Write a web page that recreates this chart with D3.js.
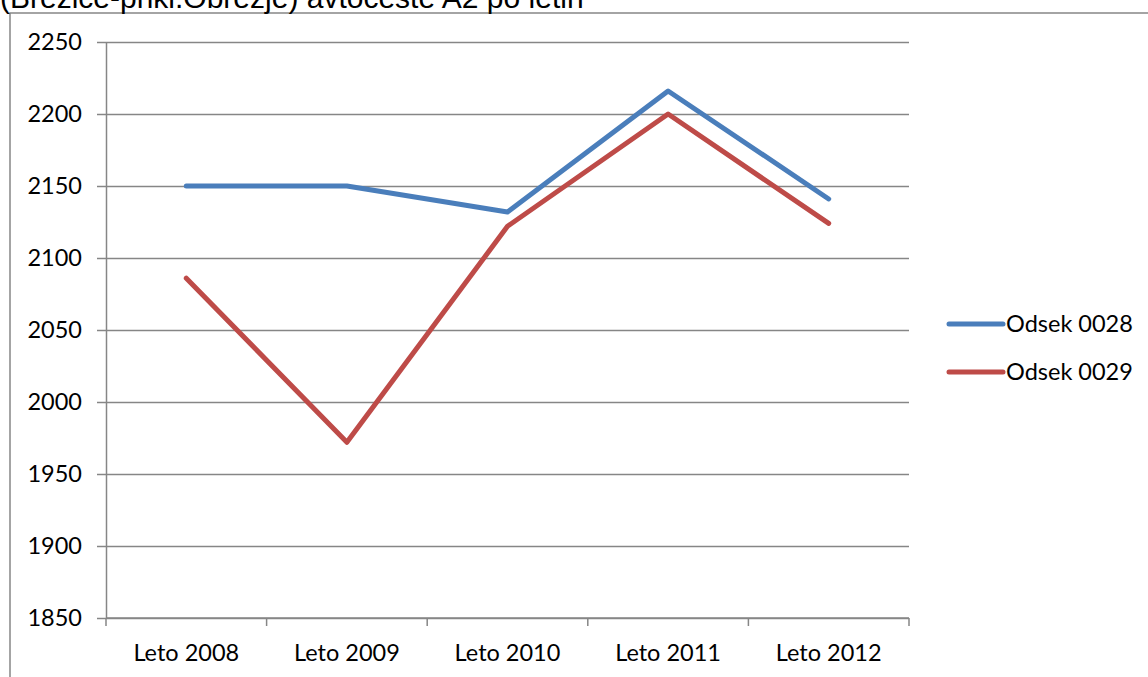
<!DOCTYPE html>
<html>
<head>
<meta charset="utf-8">
<script src="https://cdn.jsdelivr.net/npm/d3@7"></script>
<style>
  html, body { margin: 0; padding: 0; background: #fff; }
  svg { display: block; }
</style>
</head>
<body>
<svg id="chart" width="1148" height="677"></svg>
<script>
// Traffic counts per year for two road sections
const categories = ["Leto 2008", "Leto 2009", "Leto 2010", "Leto 2011", "Leto 2012"];
const seriesNames = ["Odsek 0028", "Odsek 0029"];
const odsek0028 = [2150, 2150, 2132, 2216, 2141];
const odsek0029 = [2086, 1972, 2122, 2200, 2124];
const yTicks = [1850, 1900, 1950, 2000, 2050, 2100, 2150, 2200, 2250];
const titleText = "(Brežice-prikl.Obrežje) avtoceste A2 po letih";

const colors = ["#4A7EBB", "#BE4B48"];
const gridColor = "#868686";
const labelFont = "Lato, 'Open Sans', sans-serif";

const svg = d3.select("#chart");

const plot = { left: 106, right: 909, top: 42, bottom: 618 };

const x = d3.scaleBand().domain(categories).range([plot.left, plot.right]).paddingInner(0).paddingOuter(0);
const y = d3.scaleLinear().domain([1850, 2250]).range([plot.bottom, plot.top]);

// Outer chart frame (left and top edges visible)
svg.append("path")
  .attr("d", `M10,677 L10,13 L1148,13`)
  .attr("fill", "none")
  .attr("stroke", gridColor)
  .attr("stroke-width", 1.5);

// Title (partly above the frame)
svg.append("text")
  .attr("x", 0)
  .attr("y", 8)
  .attr("font-family", "'Liberation Sans', Arial, sans-serif")
  .attr("font-size", 30)
  .attr("fill", "#000")
  .text(titleText);

// Horizontal gridlines
const grid = svg.append("g")
  .attr("transform", `translate(${plot.left},0)`)
  .call(d3.axisLeft(y).tickValues(yTicks).tickSize(-(plot.right - plot.left)).tickFormat(""));
grid.select(".domain").remove();
grid.selectAll(".tick line").attr("stroke", gridColor).attr("stroke-width", 1.5);

// Y axis with outside tick marks and labels
const yAxis = svg.append("g")
  .attr("transform", `translate(${plot.left},0)`)
  .call(d3.axisLeft(y).tickValues(yTicks).tickSize(9).tickSizeOuter(0).tickPadding(15).tickFormat(d3.format("d")));
yAxis.select(".domain").attr("stroke", gridColor).attr("stroke-width", 1.5);
yAxis.selectAll(".tick line").attr("stroke", gridColor).attr("stroke-width", 1.5);
yAxis.selectAll(".tick text")
  .attr("font-family", labelFont)
  .attr("font-size", 23.5)
  .attr("fill", "#000");

// X axis baseline, category boundary ticks and labels
const xAxis = svg.append("g").attr("transform", `translate(0,${plot.bottom})`);
xAxis.append("line")
  .attr("x1", plot.left).attr("x2", plot.right)
  .attr("stroke", gridColor).attr("stroke-width", 1.5);
const boundaries = categories.map(c => x(c)).concat([x.range()[1]]);
xAxis.selectAll("line.tick")
  .data(boundaries)
  .join("line")
  .attr("class", "tick")
  .attr("x1", d => d).attr("x2", d => d)
  .attr("y1", 0).attr("y2", 8)
  .attr("stroke", gridColor).attr("stroke-width", 1.5);
xAxis.selectAll("text")
  .data(categories)
  .join("text")
  .attr("x", d => x(d) + x.bandwidth() / 2)
  .attr("y", 43)
  .attr("text-anchor", "middle")
  .attr("font-family", labelFont)
  .attr("font-size", 23.5)
  .attr("fill", "#000")
  .text(d => d);

// Series lines
const line = d3.line()
  .x((d, i) => x(categories[i]) + x.bandwidth() / 2)
  .y(d => y(d));

[odsek0028, odsek0029].forEach((vals, k) => {
  svg.append("path")
    .datum(vals)
    .attr("d", line)
    .attr("fill", "none")
    .attr("stroke", colors[k])
    .attr("stroke-width", 5)
    .attr("stroke-linecap", "round")
    .attr("stroke-linejoin", "round");
});

// Legend
const legend = svg.append("g").attr("transform", "translate(949,324)");
seriesNames.forEach((name, k) => {
  const g = legend.append("g").attr("transform", `translate(0,${k * 48})`);
  g.append("line")
    .attr("x1", 0).attr("x2", 54)
    .attr("stroke", colors[k])
    .attr("stroke-width", 5)
    .attr("stroke-linecap", "round");
  g.append("text")
    .attr("x", 57)
    .attr("y", 0)
    .attr("dy", "0.35em")
    .attr("font-family", labelFont)
    .attr("font-size", 23.5)
    .attr("fill", "#000")
    .text(name);
});
</script>
</body>
</html>
